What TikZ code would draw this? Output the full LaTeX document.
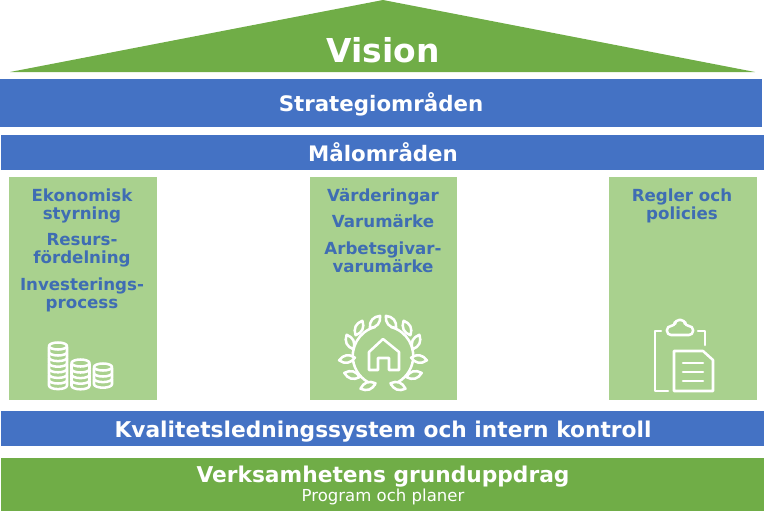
\documentclass[tikz,border=0pt]{standalone}
\usepackage{fontspec}
\setmainfont{DejaVu Sans}
\definecolor{husgron}{HTML}{70AD47}
\definecolor{kolumngron}{HTML}{A9D18E}
\definecolor{husbla}{HTML}{4472C4}
\definecolor{textbla}{HTML}{3F6DB3}
\tikzset{
    band/.style={inner sep=0pt, text=white, font=\bfseries},
    kolumn/.style={fill=kolumngron, draw=none},
    rubrik/.style={align=center, text=textbla, font=\fontsize{12.5}{13.5}\selectfont\bfseries, inner sep=0pt},
    ikon/.style={draw=white, line width=1.9pt, line join=round, line cap=round}
}
\newcommand{\myntstapel}[3]{% x, y topp, antal mynt
    \foreach \i in {1,...,#3}{
        \draw[ikon, fill=kolumngron] (#1,#2+5.6*#3-5.6*\i+1) ++(-9,0) -- ++(0,5) arc[start angle=180, end angle=0, x radius=9, y radius=3.5] -- ++(0,-5);
    }
    \draw[ikon, fill=kolumngron] (#1,#2) ellipse[x radius=9, y radius=3.5];
}
\begin{document}
\begin{tikzpicture}[x=0.75pt, y=-0.75pt]
    \useasboundingbox (0,0) rectangle (764,514);

    % Taket
    \fill[husgron] (10,72) -- (383,0) -- (755,72) -- cycle;
    \node[band, font=\fontsize{24.7}{28}\selectfont\bfseries] (vision) at (383,50) {Vision};

    % Blå band
    \fill[husbla] (0,79) rectangle (762,127);
    \node[band, font=\fontsize{16}{19}\selectfont\bfseries] (strategi) at (381,104.5) {Strategiområden};
    \fill[husbla] (1,135) rectangle (764,170);
    \node[band, font=\fontsize{16}{19}\selectfont\bfseries] (mal) at (383,152.5) {Målområden};

    % Kolumnerna
    \fill[kolumn] (9,177) rectangle (157,400);
    \fill[kolumn] (310,177) rectangle (457,400);
    \fill[kolumn] (609,177) rectangle (757,400);

    \node[rubrik] (ekonomi) at (82,206) {Ekonomisk\\styrning};
    \node[rubrik] (resurs) at (82,250) {Resurs-\\fördelning};
    \node[rubrik] (invest) at (82,295) {Investerings-\\process};

    \node[rubrik] (varde) at (383,196.5) {Värderingar};
    \node[rubrik] (varu) at (383,221) {Varumärke};
    \node[rubrik] (arbete) at (383,257) {Arbetsgivar-\\varumärke};

    \node[rubrik] (regler) at (682,206) {Regler och\\policies};

    % Mynten
    \myntstapel{58}{346}{7}
    \myntstapel{80.5}{363}{4}
    \myntstapel{103}{367}{3}

    % Kransen med huset
    \draw[ikon] (375,327) arc[start angle=-105, end angle=-255, radius=30];
    \draw[ikon] (391,327) arc[start angle=-75, end angle=75, radius=30];
    \foreach \sx in {-1,1}{
        \begin{scope}[shift={(383,0)}, xscale=\sx]
            \foreach \lx/\ly/\rot in {-8/322/50, -24/328/65, -33/342/115, -36/359/10, -31/375/165, -15/386/20}{
                \draw[ikon, fill=kolumngron, shift={(\lx,\ly)}, rotate=\rot] (-8,0) .. controls (-3,-5) and (3,-5) .. (8,0) .. controls (3,5) and (-3,5) .. (-8,0) -- cycle;
            }
        \end{scope}
    }
    \draw[ikon] (369,370) -- (369,352) -- (383,339) -- (399,352) -- (399,370) -- (389,370) -- (389,358) -- (378,358) -- (378,370) -- cycle;

    % Urklippet
    \draw[ikon] (661,331) -- (655,331) -- (655,391) -- (668,391);
    \draw[ikon] (698,331) -- (705,331) -- (705,345);
    \draw[ikon, rounded corners=3pt] (667,335) -- (667,326) -- (675,326) -- (675,320) -- (685,320) -- (685,326) -- (693,326) -- (693,335) -- cycle;
    \draw[ikon] (674,351) -- (703,351) -- (713,360) -- (713,391) -- (674,391) -- cycle;
    \foreach \ly in {363,372,381}{
        \draw[ikon] (683,\ly) -- (703,\ly);
    }

    % Kvalitet och grunduppdrag
    \fill[husbla] (1,411) rectangle (764,446);
    \node[band, font=\fontsize{16.3}{19}\selectfont\bfseries] (kvalitet) at (383,431.5) {Kvalitetsledningssystem och intern kontroll};
    \fill[husgron] (1,458) rectangle (764,511);
    \node[band, font=\fontsize{16.3}{19}\selectfont\bfseries] (grund) at (383,476.5) {Verksamhetens grunduppdrag};
    \node[band, font=\fontsize{12.4}{14}\selectfont] (program) at (383,497) {Program och planer};
\end{tikzpicture}
\end{document}
